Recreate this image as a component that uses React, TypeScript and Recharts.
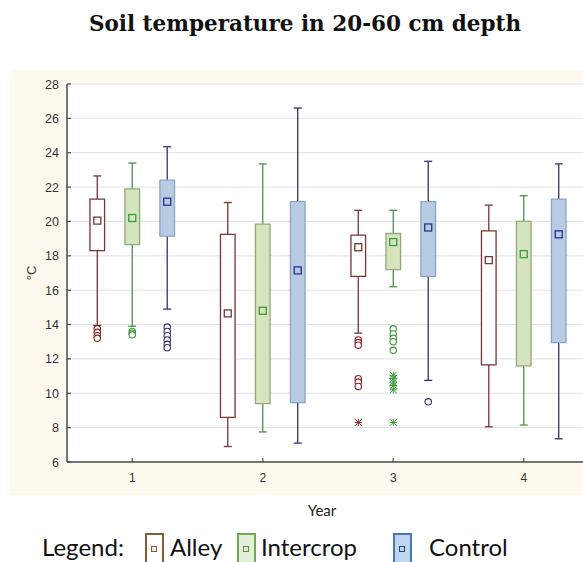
import {
  ComposedChart,
  Scatter,
  XAxis,
  YAxis,
  CartesianGrid,
  ErrorBar,
  ReferenceArea,
} from "recharts";

const YEARS = [1, 2, 3, 4];
const Y_TICKS = [6, 8, 10, 12, 14, 16, 18, 20, 22, 24, 26, 28];
const SERIES = ["Alley", "Intercrop", "Control"] as const;
type SeriesKey = (typeof SERIES)[number];

// per year: [lower whisker, box bottom, mean, box top, upper whisker]
const ALLEY = [
  [13.95, 18.3, 20.05, 21.3, 22.65],
  [6.9, 8.6, 14.65, 19.25, 21.1],
  [13.5, 16.8, 18.5, 19.2, 20.65],
  [8.05, 11.65, 17.75, 19.45, 20.95],
];
const INTERCROP = [
  [13.9, 18.65, 20.2, 21.9, 23.4],
  [7.75, 9.4, 14.8, 19.85, 23.35],
  [16.2, 17.2, 18.8, 19.3, 20.65],
  [8.15, 11.6, 18.1, 20.0, 21.5],
];
const CONTROL = [
  [14.9, 19.15, 21.15, 22.4, 24.35],
  [7.1, 9.45, 17.15, 21.15, 26.6],
  [10.75, 16.8, 19.65, 21.15, 23.5],
  [7.35, 12.95, 19.25, 21.3, 23.35],
];

// outliers (circles) and extremes (stars), per year
const ALLEY_OUTLIERS = [[13.75, 13.55, 13.35, 13.2], [], [13.1, 12.95, 12.8, 10.85, 10.65, 10.4], []];
const INTERCROP_OUTLIERS = [[13.6, 13.5, 13.4], [], [13.75, 13.45, 13.2, 13.0, 12.5], []];
const CONTROL_OUTLIERS = [[13.85, 13.6, 13.35, 13.1, 12.85, 12.65], [], [9.5], []];
const ALLEY_EXTREMES = [[], [], [8.3], []];
const INTERCROP_EXTREMES = [[], [], [11.05, 10.85, 10.65, 10.45, 10.2, 8.3], []];
const CONTROL_EXTREMES = [[], [], [], []];

const STATS: Record<SeriesKey, number[][]> = { Alley: ALLEY, Intercrop: INTERCROP, Control: CONTROL };
const OUTLIERS: Record<SeriesKey, number[][]> = {
  Alley: ALLEY_OUTLIERS,
  Intercrop: INTERCROP_OUTLIERS,
  Control: CONTROL_OUTLIERS,
};
const EXTREMES: Record<SeriesKey, number[][]> = {
  Alley: ALLEY_EXTREMES,
  Intercrop: INTERCROP_EXTREMES,
  Control: CONTROL_EXTREMES,
};

const OFFSET: Record<SeriesKey, number> = { Alley: -0.268, Intercrop: 0, Control: 0.268 };
const BOX_HALF = 0.056;

const LOOK: Record<SeriesKey, { fill: string; stroke: string; whisker: string; mean: string; point: string }> = {
  Alley: { fill: "#ffffff", stroke: "#7a3434", whisker: "#7a3434", mean: "#7a3434", point: "#8a2424" },
  Intercrop: { fill: "#d6e4bd", stroke: "#8fa97c", whisker: "#4f914f", mean: "#3b9a3b", point: "#3a9a3a" },
  Control: { fill: "#b7cbe3", stroke: "#8ca4c4", whisker: "#30336a", mean: "#22318f", point: "#2e2e70" },
};

const LEGEND_LOOK: Record<SeriesKey, { fill: string; stroke: string; inner: string; left: number; text: number }> = {
  Alley: { fill: "#ffffff", stroke: "#8e5a36", inner: "#8e5a36", left: 145, text: 170 },
  Intercrop: { fill: "#e3efd8", stroke: "#6fab4a", inner: "#4f8f3a", left: 237, text: 261 },
  Control: { fill: "#c0d6ee", stroke: "#4a78b0", inner: "#2a3f7a", left: 393, text: 429 },
};

const AXIS = "#4a4a4a";
const SANS = "'Liberation Sans', Arial, sans-serif";
const LEGEND_FONT = "Lato, 'Open Sans', sans-serif";

const BottomTick = (props: any) => {
  const { x, y, payload } = props;
  return (
    <g>
      <line x1={x} y1={y} x2={x} y2={y - 4} stroke={AXIS} strokeWidth={1.2} />
      <text x={x} y={y + 20} textAnchor="middle" fontSize={12} fill="#333" fontFamily={SANS}>
        {payload.value}
      </text>
    </g>
  );
};

const TopTick = (props: any) => {
  const { x, y } = props;
  return <line x1={x} y1={y} x2={x} y2={y + 4} stroke={AXIS} strokeWidth={1.2} />;
};

const LeftTick = (props: any) => {
  const { x, y, payload } = props;
  return (
    <g>
      <line x1={x} y1={y} x2={x + 4} y2={y} stroke={AXIS} strokeWidth={1.2} />
      <text x={x - 8} y={y + 4.5} textAnchor="end" fontSize={12.5} fill="#333" fontFamily={SANS}>
        {payload.value}
      </text>
    </g>
  );
};

const Empty = () => <g />;

const meanShape = (s: SeriesKey) => (p: any) => (
  <rect x={p.cx - 3.5} y={p.cy - 3.5} width={7} height={7} fill={LOOK[s].fill} stroke={LOOK[s].mean} strokeWidth={1.3} />
);

const circleShape = (s: SeriesKey) => (p: any) => (
  <circle cx={p.cx} cy={p.cy} r={3.2} fill="#fff" stroke={LOOK[s].point} strokeWidth={1.1} />
);

const starShape = (s: SeriesKey) => (p: any) => {
  const c = LOOK[s].point;
  const r = 3.5;
  return (
    <g stroke={c} strokeWidth={1}>
      <line x1={p.cx - r} y1={p.cy} x2={p.cx + r} y2={p.cy} />
      <line x1={p.cx} y1={p.cy - r} x2={p.cx} y2={p.cy + r} />
      <line x1={p.cx - r} y1={p.cy - r} x2={p.cx + r} y2={p.cy + r} />
      <line x1={p.cx - r} y1={p.cy + r} x2={p.cx + r} y2={p.cy - r} />
    </g>
  );
};

function boxRows(s: SeriesKey) {
  return YEARS.map((yr, i) => {
    const [lo, q1, mean, q3, hi] = STATS[s][i];
    return { x: yr + OFFSET[s], y: mean, q1, q3, err: [mean - lo, hi - mean] };
  });
}

function pointRows(s: SeriesKey, src: Record<SeriesKey, number[][]>) {
  return YEARS.flatMap((yr, i) => src[s][i].map((v) => ({ x: yr + OFFSET[s], y: v })));
}

export default function App() {
  return (
    <div
      style={{
        position: "absolute",
        left: 0,
        top: 0,
        width: 583,
        height: 562,
        overflow: "hidden",
        background: "#fff",
      }}
    >
      <div
        style={{
          position: "absolute",
          left: 0,
          top: 11,
          width: 610,
          textAlign: "center",
          fontFamily: "'DejaVu Serif', serif",
          fontWeight: "bold",
          fontSize: 21.5,
          lineHeight: "26px",
          color: "#111",
        }}
      >
        Soil temperature in 20-60 cm depth
      </div>

      <div style={{ position: "absolute", left: 10, top: 70, width: 573, height: 425, background: "#fdf9ef" }} />

      <div style={{ position: "absolute", left: 0, top: 70 }}>
        <ComposedChart width={600} height={425} margin={{ top: 14, right: 11, bottom: 3, left: 27 }}>
          <CartesianGrid vertical={false} stroke="#e2e2e2" fill="#ffffff" />
          <XAxis
            dataKey="x"
            type="number"
            domain={[0.5, 4.5]}
            ticks={YEARS}
            allowDataOverflow
            height={30}
            tickSize={0}
            tickMargin={0}
            tick={BottomTick}
            axisLine={{ stroke: AXIS, strokeWidth: 1.5 }}
            tickLine={false}
          />
          <XAxis
            xAxisId="top"
            orientation="top"
            dataKey="x"
            type="number"
            domain={[0.5, 4.5]}
            ticks={YEARS}
            allowDataOverflow
            height={0}
            tickSize={0}
            tickMargin={0}
            tick={TopTick}
            axisLine={{ stroke: AXIS, strokeWidth: 1.5 }}
            tickLine={false}
          />
          <YAxis
            dataKey="y"
            type="number"
            domain={[6, 28]}
            ticks={Y_TICKS}
            allowDataOverflow
            width={40}
            tickSize={0}
            tickMargin={0}
            tick={LeftTick}
            axisLine={{ stroke: AXIS, strokeWidth: 1.5 }}
            tickLine={false}
          />

          {SERIES.map((s) => (
            <Scatter key={`w-${s}`} data={boxRows(s)} shape={Empty} isAnimationActive={false}>
              <ErrorBar dataKey="err" direction="y" width={4} stroke={LOOK[s].whisker} strokeWidth={1.3} />
            </Scatter>
          ))}

          {SERIES.flatMap((s) =>
            boxRows(s).map((r) => (
              <ReferenceArea
                key={`b-${s}-${r.x}`}
                x1={r.x - BOX_HALF}
                x2={r.x + BOX_HALF}
                y1={r.q1}
                y2={r.q3}
                fill={LOOK[s].fill}
                fillOpacity={1}
                stroke={LOOK[s].stroke}
                strokeWidth={1.3}
                zIndex={650}
              />
            ))
          )}

          {SERIES.map((s) => (
            <Scatter
              key={`m-${s}`}
              data={boxRows(s)}
              shape={meanShape(s)}
              isAnimationActive={false}
              zIndex={700}
            />
          ))}
          {SERIES.map((s) => (
            <Scatter
              key={`o-${s}`}
              data={pointRows(s, OUTLIERS)}
              shape={circleShape(s)}
              isAnimationActive={false}
              zIndex={700}
            />
          ))}
          {SERIES.map((s) => (
            <Scatter
              key={`e-${s}`}
              data={pointRows(s, EXTREMES)}
              shape={starShape(s)}
              isAnimationActive={false}
              zIndex={700}
            />
          ))}
        </ComposedChart>
      </div>

      <div
        style={{
          position: "absolute",
          left: 22,
          top: 263,
          width: 20,
          height: 20,
          transform: "rotate(-90deg)",
          fontFamily: SANS,
          fontSize: 13,
          color: "#333",
          textAlign: "center",
          lineHeight: "20px",
        }}
      >
        °C
      </div>

      <div
        style={{
          position: "absolute",
          left: 272,
          top: 500,
          width: 100,
          textAlign: "center",
          fontFamily: LEGEND_FONT,
          fontSize: 15,
          lineHeight: "20px",
          color: "#222",
        }}
      >
        Year
      </div>

      <div
        style={{
          position: "absolute",
          left: 42,
          top: 533,
          fontFamily: LEGEND_FONT,
          fontSize: 24,
          lineHeight: "28px",
          color: "#111",
        }}
      >
        Legend:
      </div>
      {SERIES.map((s) => {
        const lk = LEGEND_LOOK[s];
        return (
          <div key={`lg-${s}`}>
            <div
              style={{
                position: "absolute",
                left: lk.left,
                top: 533,
                width: 15,
                height: 32,
                background: lk.fill,
                border: `2px solid ${lk.stroke}`,
              }}
            >
              <div
                style={{
                  position: "absolute",
                  left: 4,
                  top: 11,
                  width: 4,
                  height: 4,
                  border: `1.5px solid ${lk.inner}`,
                }}
              />
            </div>
            <div
              style={{
                position: "absolute",
                left: lk.text,
                top: 533,
                fontFamily: LEGEND_FONT,
                fontSize: 24,
                lineHeight: "28px",
                color: "#111",
              }}
            >
              {s}
            </div>
          </div>
        );
      })}
    </div>
  );
}
